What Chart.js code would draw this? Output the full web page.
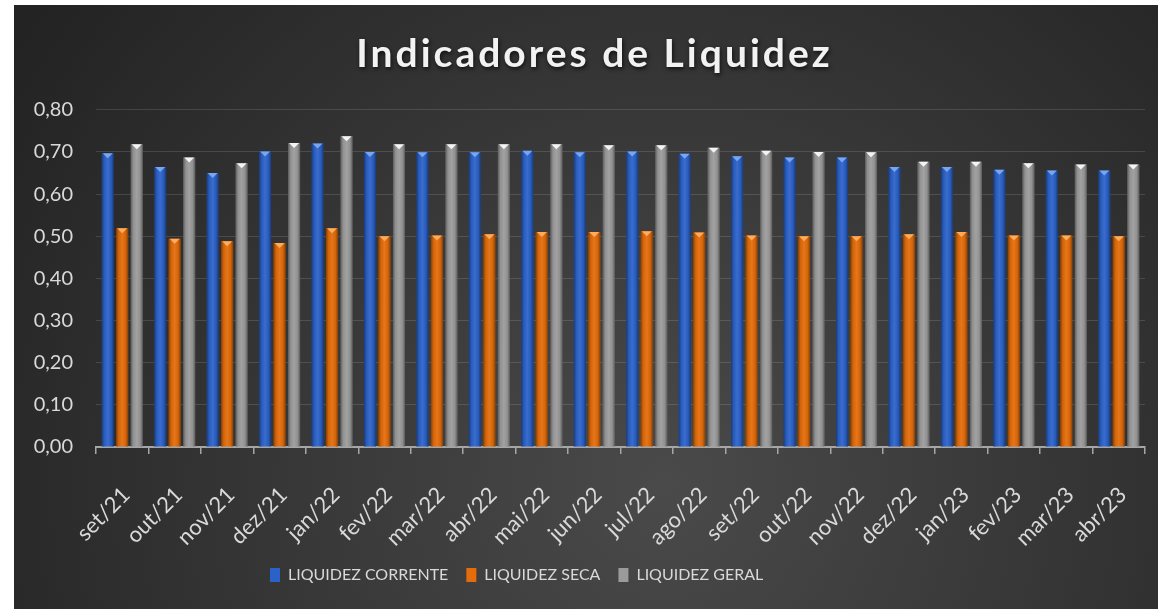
<!DOCTYPE html>
<html>
<head>
<meta charset="utf-8">
<script src="https://cdn.jsdelivr.net/npm/chart.js@4.4.1/dist/chart.umd.min.js"></script>
<style>
  html, body { margin: 0; padding: 0; background: #ffffff; width: 1158px; height: 609px; overflow: hidden; }
  #wrap { position: absolute; left: 14px; top: 5px; width: 1144px; height: 604px; }
</style>
</head>
<body>
<div id="wrap"><canvas id="c" width="1144" height="604"></canvas></div>
<script>
const categories = ['set/21','out/21','nov/21','dez/21','jan/22','fev/22','mar/22','abr/22','mai/22','jun/22',
                    'jul/22','ago/22','set/22','out/22','nov/22','dez/22','jan/23','fev/23','mar/23','abr/23'];
const liquidezCorrente = [0.697,0.664,0.650,0.701,0.720,0.700,0.699,0.699,0.703,0.699,
                          0.701,0.696,0.690,0.687,0.687,0.664,0.664,0.658,0.656,0.656];
const liquidezSeca     = [0.519,0.494,0.488,0.484,0.519,0.500,0.502,0.505,0.510,0.510,
                          0.512,0.509,0.502,0.500,0.500,0.505,0.510,0.502,0.502,0.500];
const liquidezGeral    = [0.718,0.687,0.673,0.721,0.737,0.718,0.718,0.718,0.718,0.716,
                          0.716,0.710,0.703,0.700,0.699,0.677,0.677,0.673,0.670,0.670];
const seriesNames = ['LIQUIDEZ CORRENTE','LIQUIDEZ SECA','LIQUIDEZ GERAL'];
const yTickLabels = ['0,00','0,10','0,20','0,30','0,40','0,50','0,60','0,70','0,80'];
const titleText = 'Indicadores de Liquidez';

const FONT = 'Lato';
const TXT = '#d9d9d9';
const baseColors = ['#2b62c9', '#e46c0a', '#9b9b9b'];
const bevelColors = ['#79a6ee', '#ffac5c', '#f4f4f4'];

const bgPlugin = {
  id: 'bg',
  beforeDraw(chart) {
    const ctx = chart.ctx;
    const w = chart.width, h = chart.height;
    ctx.save();
    const g = ctx.createRadialGradient(650, 480, 0, 650, 480, 780);
    g.addColorStop(0, '#4a4a4a');
    g.addColorStop(1, '#232323');
    ctx.fillStyle = g;
    ctx.fillRect(0, 0, w, h);
    ctx.restore();
    const t = chart.titleBlock;
    if (t && !t._patched) {
      const orig = t.draw.bind(t);
      t.draw = function () {
        const c = this.ctx;
        c.save();
        c.letterSpacing = '3px';
        c.shadowColor = 'rgba(0,0,0,0.7)';
        c.shadowBlur = 4;
        c.shadowOffsetX = 1;
        c.shadowOffsetY = 2;
        c.translate(15, 0);
        orig();
        c.restore();
      };
      t._patched = true;
    }
  }
};

const legendPlugin = {
  id: 'legendPos',
  afterLayout(chart) {
    const lg = chart.legend;
    if (!lg) return;
    const pad = lg.options.labels.padding;
    const fs = lg.options.labels.font.size;
    lg.left = 256 - pad;
    lg.right = chart.width;
    lg.top = 570 - pad - fs / 2;
  }
};

const bevelPlugin = {
  id: 'bevel',
  afterDatasetsDraw(chart) {
    const ctx = chart.ctx;
    chart.data.datasets.forEach((ds, di) => {
      const meta = chart.getDatasetMeta(di);
      meta.data.forEach(bar => {
        const p = bar.getProps(['x', 'y', 'base', 'width'], true);
        const l = p.x - p.width / 2, r = p.x + p.width / 2;
        ctx.save();
        const g = ctx.createLinearGradient(l, 0, r, 0);
        g.addColorStop(0, 'rgba(0,0,0,0.40)');
        g.addColorStop(0.22, 'rgba(0,0,0,0.06)');
        g.addColorStop(0.5, 'rgba(255,255,255,0.07)');
        g.addColorStop(0.78, 'rgba(0,0,0,0.06)');
        g.addColorStop(1, 'rgba(0,0,0,0.40)');
        ctx.fillStyle = g;
        ctx.fillRect(l, p.y, p.width, p.base - p.y);
        ctx.fillStyle = bevelColors[di];
        ctx.beginPath();
        ctx.moveTo(l + 1, p.y);
        ctx.lineTo(r - 1, p.y);
        ctx.lineTo(p.x, p.y + 5);
        ctx.closePath();
        ctx.fill();
        ctx.restore();
      });
    });
  }
};

function start() {
  new Chart(document.getElementById('c'), {
    type: 'bar',
    data: {
      labels: categories,
      datasets: [
        { label: seriesNames[0], data: liquidezCorrente, backgroundColor: baseColors[0] },
        { label: seriesNames[1], data: liquidezSeca, backgroundColor: baseColors[1] },
        { label: seriesNames[2], data: liquidezGeral, backgroundColor: baseColors[2] }
      ]
    },
    options: {
      responsive: false,
      animation: false,
      devicePixelRatio: 1,
      categoryPercentage: 0.83,
      barPercentage: 0.83,
      layout: { padding: { left: 0, right: 13, top: 0, bottom: 0 } },
      plugins: {
        title: {
          display: true,
          text: titleText,
          color: '#f2f2f2',
          font: { family: FONT, size: 39, weight: 'bold' },
          padding: { top: 26, bottom: 32 }
        },
        legend: {
          position: 'bottom',
          align: 'start',
          labels: {
            color: TXT,
            font: { family: FONT, size: 16 },
            boxWidth: 10,
            boxHeight: 14,
            padding: 18
          }
        },
        tooltip: { enabled: false }
      },
      scales: {
        x: {
          grid: { drawOnChartArea: false, drawTicks: true, tickLength: 7, tickColor: '#a6a6a6', color: '#a6a6a6', lineWidth: 1.5 },
          border: { display: true, color: '#a6a6a6', width: 2 },
          ticks: { color: TXT, font: { family: FONT, size: 22 }, minRotation: 45, maxRotation: 45, autoSkip: false, padding: 28, labelOffset: 4 },
          afterFit(s) { s.height = 118; s.paddingRight = 0; }
        },
        y: {
          min: 0, max: 0.8,
          grid: { color: 'rgba(255,255,255,0.13)', lineWidth: 1, drawTicks: false },
          border: { display: false },
          ticks: {
            stepSize: 0.1, color: TXT, font: { family: FONT, size: 20 }, padding: 23,
            callback: (v, i) => yTickLabels[i]
          },
          afterFit(s) { s.width = 82; }
        }
      }
    },
    plugins: [bgPlugin, legendPlugin, bevelPlugin]
  });
}

Promise.all([
  document.fonts.load('bold 39px Lato'),
  document.fonts.load('20px Lato'),
  document.fonts.load('22px Lato'),
  document.fonts.load('16px Lato')
]).then(start, start);
</script>
</body>
</html>
